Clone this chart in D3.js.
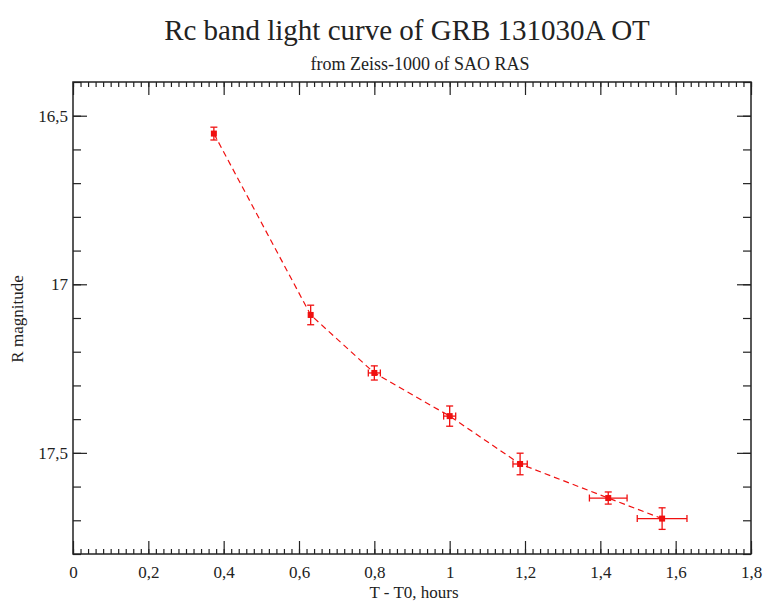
<!DOCTYPE html>
<html>
<head>
<meta charset="utf-8">
<script src="https://cdn.jsdelivr.net/npm/d3@7"></script>
<style>
  body { margin: 0; background: #fff; }
  svg text { font-family: "Liberation Serif", "DejaVu Serif", "Times New Roman", serif !important; fill: #222; }
</style>
</head>
<body>
<div id="chart"></div>
<script>
// light curve points (hours since trigger, R mag)
var times    = [0.374, 0.631, 0.800, 1.000, 1.187, 1.421, 1.564];
var mags     = [16.553, 17.091, 17.263, 17.391, 17.533, 17.634, 17.695];
var timeErr  = [0, 0, 0.016, 0.016, 0.019, 0.050, 0.066];
var magErr   = [0.019, 0.029, 0.021, 0.030, 0.032, 0.018, 0.032];
var xTicks   = [0, 0.2, 0.4, 0.6, 0.8, 1, 1.2, 1.4, 1.6, 1.8];
var yTicks   = [16.5, 17, 17.5];

var w = 765, h = 601;
var padL = 73, padR = 751, padT = 82, padB = 554;
var serif = "'Liberation Serif', 'DejaVu Serif', 'Times New Roman', serif";

var data = times.map(function(t, i) {
  return {t: t, m: mags[i], dt: timeErr[i], dm: magErr[i]};
});

var svg = d3.select("#chart").append("svg")
  .attr("width", w).attr("height", h);

var xScale = d3.scaleLinear().domain([0, 1.8]).range([padL, padR]);
var yScale = d3.scaleLinear().domain([16.4, 17.8]).range([padT, padB]);

var fmt = function(d) { return String(d).replace(".", ","); };

// minor ticks
var xMinor = d3.range(0, 1.8001, 0.02);
var yMinor = d3.range(16.4, 17.8001, 0.1);

function noDomain(g) { g.select(".domain").remove(); }
function labelStyle(g) {
  g.attr("font-family", serif);
  g.select(".domain").remove();
  g.selectAll("text").style("font-size", "17px").style("font-family", serif).attr("fill", "#222");
}

//bottom axis
svg.append("g")
  .attr("transform", "translate(0," + padB + ")")
  .call(d3.axisBottom(xScale).tickValues(xMinor).tickSize(-5).tickFormat(""))
  .call(noDomain);
svg.append("g")
  .attr("transform", "translate(0," + padB + ")")
  .call(d3.axisBottom(xScale).tickValues(xTicks).tickSize(-13).tickPadding(12).tickFormat(fmt))
  .call(labelStyle);

//top axis (mirror)
svg.append("g")
  .attr("transform", "translate(0," + padT + ")")
  .call(d3.axisTop(xScale).tickValues(xMinor).tickSize(-5).tickFormat(""))
  .call(noDomain);
svg.append("g")
  .attr("transform", "translate(0," + padT + ")")
  .call(d3.axisTop(xScale).tickValues(xTicks).tickSize(-13).tickFormat(""))
  .call(noDomain);

//left axis
svg.append("g")
  .attr("transform", "translate(" + padL + ",0)")
  .call(d3.axisLeft(yScale).tickValues(yMinor).tickSize(-8).tickFormat(""))
  .call(noDomain);
svg.append("g")
  .attr("transform", "translate(" + padL + ",0)")
  .call(d3.axisLeft(yScale).tickValues(yTicks).tickSize(-14).tickPadding(5).tickFormat(fmt))
  .call(labelStyle);

//right axis (mirror)
svg.append("g")
  .attr("transform", "translate(" + padR + ",0)")
  .call(d3.axisRight(yScale).tickValues(yMinor).tickSize(-8).tickFormat(""))
  .call(noDomain);
svg.append("g")
  .attr("transform", "translate(" + padR + ",0)")
  .call(d3.axisRight(yScale).tickValues(yTicks).tickSize(-14).tickFormat(""))
  .call(noDomain);

svg.selectAll(".tick line").attr("stroke", "#222").attr("stroke-width", 1.2);

// frame
svg.append("rect")
  .attr("x", padL).attr("y", padT)
  .attr("width", padR - padL).attr("height", padB - padT)
  .attr("fill", "none").attr("stroke", "#222").attr("stroke-width", 1.5);

// dashed line
var red = "#f01010";
var line = d3.line()
  .x(function(d) { return xScale(d.t); })
  .y(function(d) { return yScale(d.m); });

svg.append("path")
  .datum(data)
  .attr("d", line)
  .attr("fill", "none")
  .attr("stroke", red)
  .attr("stroke-width", 1.2)
  .attr("stroke-dasharray", "6,4");

// error bars
var cap = 3.5;
var eb = svg.append("g").attr("stroke", red).attr("stroke-width", 1.3);

data.forEach(function(d) {
  var cx = xScale(d.t), cy = yScale(d.m);
  var y0 = yScale(d.m - d.dm), y1 = yScale(d.m + d.dm);
  eb.append("line").attr("x1", cx).attr("x2", cx).attr("y1", y0).attr("y2", y1);
  eb.append("line").attr("x1", cx - cap).attr("x2", cx + cap).attr("y1", y0).attr("y2", y0);
  eb.append("line").attr("x1", cx - cap).attr("x2", cx + cap).attr("y1", y1).attr("y2", y1);
  if (d.dt > 0) {
    var x0 = xScale(d.t - d.dt), x1 = xScale(d.t + d.dt);
    eb.append("line").attr("x1", x0).attr("x2", x1).attr("y1", cy).attr("y2", cy);
    eb.append("line").attr("x1", x0).attr("x2", x0).attr("y1", cy - cap).attr("y2", cy + cap);
    eb.append("line").attr("x1", x1).attr("x2", x1).attr("y1", cy - cap).attr("y2", cy + cap);
  }
});

// markers
svg.selectAll("rect.pt")
  .data(data)
  .enter()
  .append("rect")
  .attr("class", "pt")
  .attr("x", function(d) { return xScale(d.t) - 3; })
  .attr("y", function(d) { return yScale(d.m) - 3; })
  .attr("width", 6)
  .attr("height", 6)
  .attr("fill", red);

// titles
svg.append("text")
  .attr("x", 407).attr("y", 40)
  .attr("text-anchor", "middle")
  .style("font-family", serif)
  .style("font-size", "29px")
  .text("Rc band light curve of GRB 131030A OT");

svg.append("text")
  .attr("x", 420).attr("y", 70)
  .attr("text-anchor", "middle")
  .style("font-family", serif)
  .style("font-size", "18px")
  .text("from Zeiss-1000 of SAO RAS");

svg.append("text")
  .attr("x", 414).attr("y", 598)
  .attr("text-anchor", "middle")
  .style("font-family", serif)
  .style("font-size", "17px")
  .text("T - T0, hours");

svg.append("text")
  .attr("transform", "translate(23,319) rotate(-90)")
  .attr("text-anchor", "middle")
  .style("font-family", serif)
  .style("font-size", "17px")
  .text("R magnitude");
</script>
</body>
</html>
